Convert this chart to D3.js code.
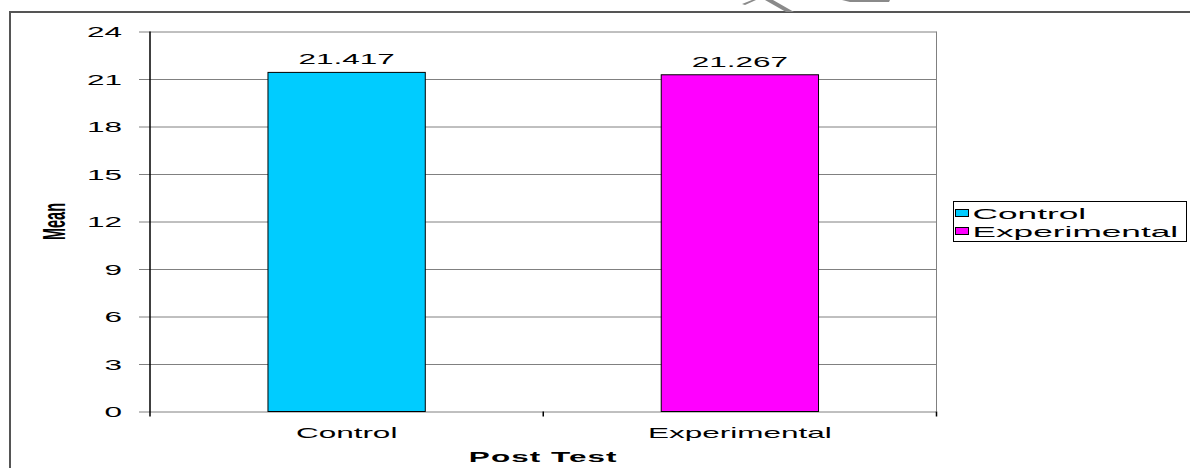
<!DOCTYPE html>
<html>
<head>
<meta charset="utf-8">
<script src="https://cdn.jsdelivr.net/npm/d3@7"></script>
<style>
  html, body { margin: 0; padding: 0; background: #fff; }
  svg { display: block; }
  text { font-family: Arial, 'Liberation Sans', sans-serif; fill: #000; }
</style>
</head>
<body>
<div id="chart"></div>
<script>
// chart values
const categories = ['Control', 'Experimental'];
const means = [21.417, 21.267];
const seriesColors = ['#00ccff', '#ff00ff'];
const yTicks = [0, 3, 6, 9, 12, 15, 18, 21, 24];
const yTitle = 'Mean';
const xTitle = 'Post Test';

const width = 1190;
const height = 468;
const plot = { left: 150, right: 936.5, top: 31.5, bottom: 411.5 };
const stretch = 2.1; // the source picture is stretched horizontally

const svg = d3
  .select('#chart')
  .append('svg')
  .attr('width', width)
  .attr('height', height);

// outer frame, runs off the right and bottom edge
svg
  .append('rect')
  .attr('x', 10)
  .attr('y', 12)
  .attr('width', width + 20)
  .attr('height', height + 20)
  .attr('fill', 'none')
  .attr('stroke', '#555')
  .attr('stroke-width', 2);

// bits of a watermark above the frame
svg
  .append('g')
  .attr('fill', '#8a8a8a')
  .selectAll('polygon')
  .data([
    '765,0 773,0 794,12 786,12',
    '742,4 745,5 756,0 752,0',
    '842,0 890,0 889,2 850,2',
  ])
  .join('polygon')
  .attr('points', (p) => p);

const x = d3
  .scaleBand()
  .domain(categories)
  .range([plot.left, plot.right])
  .padding(0);

const y = d3
  .scaleLinear()
  .domain([0, d3.max(yTicks)])
  .range([plot.bottom, plot.top]);

const barWidth = x.bandwidth() * 0.4;

// gridlines and y tick labels
const yAxis = svg
  .append('g')
  .attr('transform', `translate(${plot.left}, 0)`)
  .call(
    d3
      .axisLeft(y)
      .tickValues(yTicks)
      .tickSize(-(plot.right - plot.left))
      .tickSizeOuter(0)
      .tickPadding(28)
  );

yAxis.select('.domain').remove();
yAxis.selectAll('.tick line').attr('x1', -11).attr('stroke', '#808080').attr('stroke-width', 1);
yAxis
  .selectAll('.tick text')
  .attr('x', null)
  .attr('dy', '0.35em')
  .attr('transform', `translate(-28, 0) scale(${stretch}, 1)`)
  .style('font-size', '15px')
  .style('font-family', "Arial, 'Liberation Sans', sans-serif")
  .attr('fill', '#000');

// right border of the plot area
svg
  .append('line')
  .attr('x1', plot.right)
  .attr('x2', plot.right)
  .attr('y1', plot.top)
  .attr('y2', plot.bottom)
  .attr('stroke', '#808080');

// bars
svg
  .append('g')
  .selectAll('rect')
  .data(categories)
  .join('rect')
  .attr('x', (d) => x(d) + (x.bandwidth() - barWidth) / 2)
  .attr('y', (d, i) => y(means[i]))
  .attr('width', barWidth)
  .attr('height', (d, i) => y(0) - y(means[i]))
  .attr('fill', (d, i) => seriesColors[i])
  .attr('stroke', '#000')
  .attr('stroke-width', 1);

// value labels
svg
  .append('g')
  .selectAll('text')
  .data(categories)
  .join('text')
  .attr('transform', (d, i) => `translate(${x(d) + x.bandwidth() / 2}, ${y(means[i]) - 8}) scale(${stretch}, 1)`)
  .attr('text-anchor', 'middle')
  .style('font-size', '15px')
  .text((d, i) => means[i].toFixed(3));

// y axis line
svg
  .append('line')
  .attr('x1', plot.left)
  .attr('x2', plot.left)
  .attr('y1', plot.top)
  .attr('y2', plot.bottom + 5)
  .attr('stroke', '#000')
  .attr('stroke-width', 1.5);

// category boundary ticks
const edges = d3.range(categories.length + 1).map((i) => plot.left + i * x.step());
svg
  .append('g')
  .selectAll('line')
  .data(edges.slice(1))
  .join('line')
  .attr('x1', (d) => d)
  .attr('x2', (d) => d)
  .attr('y1', plot.bottom)
  .attr('y2', plot.bottom + 5)
  .attr('stroke', '#000')
  .attr('stroke-width', 1.5);

// category labels
svg
  .append('g')
  .selectAll('text')
  .data(categories)
  .join('text')
  .attr('transform', (d) => `translate(${x(d) + x.bandwidth() / 2}, ${plot.bottom + 26}) scale(${stretch}, 1)`)
  .attr('text-anchor', 'middle')
  .style('font-size', '15px')
  .text((d) => d);

// axis titles
svg
  .append('text')
  .attr('transform', `translate(${(plot.left + plot.right) / 2}, 462) scale(${stretch}, 1)`)
  .attr('text-anchor', 'middle')
  .style('font-size', '15px')
  .style('font-weight', 'bold')
  .style('letter-spacing', '0.5px')
  .text(xTitle);

svg
  .append('text')
  .attr('transform', `translate(54, ${(plot.top + plot.bottom) / 2}) scale(${stretch}, 1) rotate(-90)`)
  .attr('text-anchor', 'middle')
  .attr('dy', '0.35em')
  .style('font-size', '14.5px')
  .style('font-weight', 'bold')
  .text(yTitle);

// legend
const legend = svg.append('g').attr('transform', 'translate(953.5, 201.5)');

legend
  .append('rect')
  .attr('width', 233)
  .attr('height', 40)
  .attr('fill', '#fff')
  .attr('stroke', '#000');

const legendRows = legend
  .selectAll('g.row')
  .data(categories)
  .join('g')
  .attr('class', 'row')
  .attr('transform', (d, i) => `translate(0, ${12 + i * 18})`);

legendRows
  .append('rect')
  .attr('x', 2)
  .attr('y', -4)
  .attr('width', 13)
  .attr('height', 7)
  .attr('fill', (d, i) => seriesColors[i])
  .attr('stroke', '#000');

legendRows
  .append('text')
  .attr('transform', `translate(19, 5) scale(2.35, 1)`)
  .style('font-size', '15px')
  .text((d) => d);
</script>
</body>
</html>
